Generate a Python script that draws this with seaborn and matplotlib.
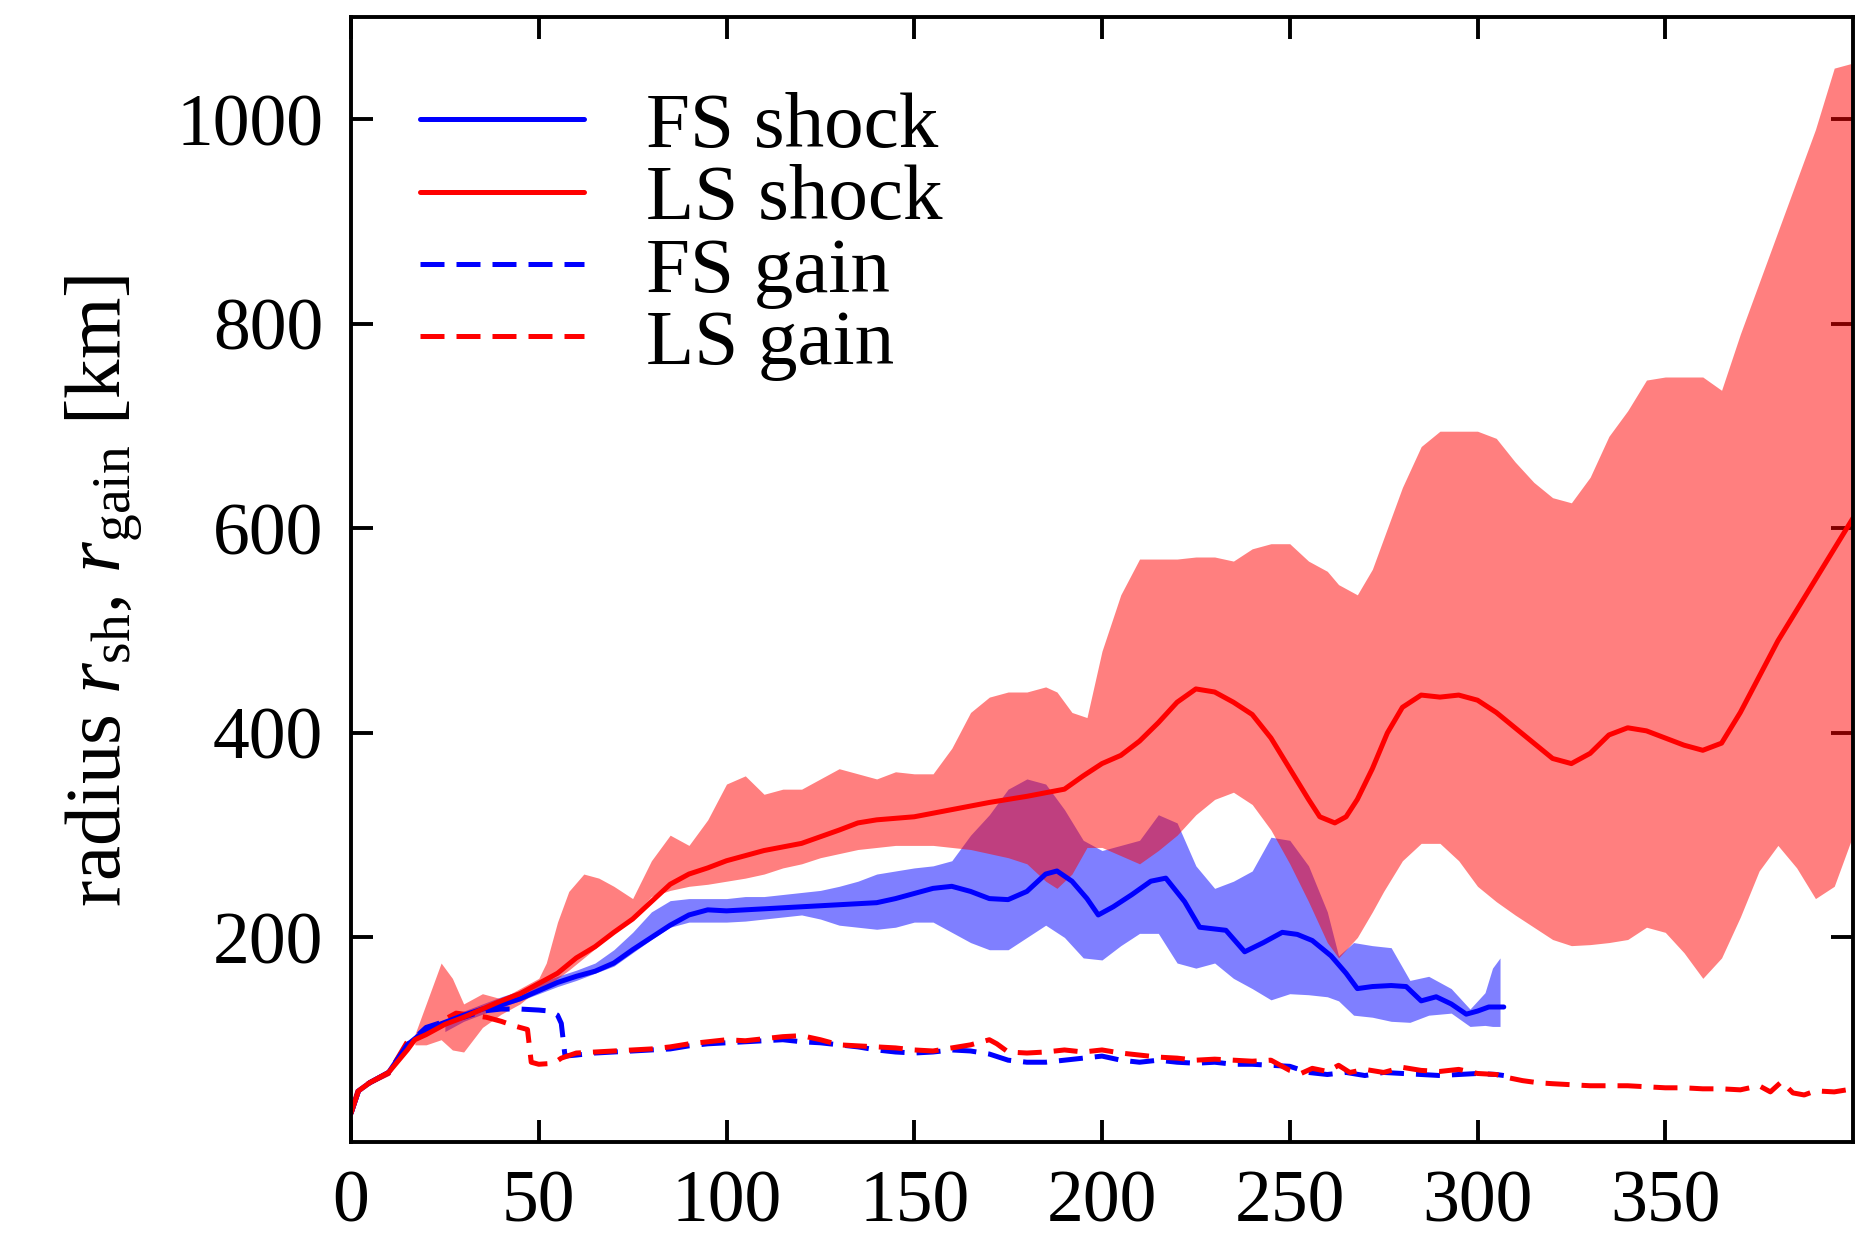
import numpy as np
import pandas as pd
import matplotlib
matplotlib.use("Agg")
import matplotlib.pyplot as plt
import seaborn as sns

# ---------------- data ----------------
# LS shock (mean)
t_ls = [0,2,5,10,15,17,20,25,30,35,40,45,50,55,60,65,70,75,80,85,90,95,100,105,110,120,130,135,140,150,160,170,180,190,195,200,205,210,215,220,225,230,235,240,245,250,255,258,262,265,268,272,276,280,285,290,295,300,305,310,315,320,325,330,335,340,345,350,355,360,365,370,375,380,385,390,395,400]
ls_shock = [28,50,58,68,90,100,105,115,122,130,138,145,155,165,180,191,205,218,235,252,262,268,275,280,285,292,305,312,315,318,325,332,338,345,358,370,378,392,410,430,443,440,430,418,395,365,335,318,312,318,335,365,400,425,437,435,437,432,420,405,390,375,370,380,398,405,402,395,388,383,390,420,455,490,520,550,580,610]

# LS shock band
t_ls_band = [17,20,24,27,30,35,40,45,50,52,55,58,62,66,70,75,80,85,90,95,100,105,110,115,120,125,130,135,140,145,150,155,160,165,170,175,180,185,188,192,196,200,205,210,215,220,225,230,235,240,245,250,255,260,263,268,272,275,280,285,290,295,300,305,310,315,320,325,330,335,340,345,350,355,360,365,370,375,380,385,390,395,400]
ls_hi = [105,135,175,160,135,145,140,150,160,175,215,245,262,258,250,238,275,300,290,315,350,358,340,345,345,355,365,360,355,362,360,360,385,420,435,440,440,445,440,420,415,480,535,570,570,570,572,572,568,580,585,585,568,558,545,535,560,590,640,680,695,695,695,688,665,645,630,625,650,690,715,745,748,748,748,735,790,840,890,940,990,1050,1055]
ls_lo = [95,95,100,90,88,112,125,135,150,152,160,168,180,192,205,220,240,246,250,252,255,258,262,268,272,278,282,286,288,290,290,290,288,286,282,278,272,255,248,262,288,288,280,272,285,300,320,335,342,330,305,272,235,195,180,200,225,245,275,292,292,275,250,235,222,210,198,192,193,195,198,210,205,185,160,180,220,265,290,268,238,250,300]

# FS shock (mean)
t_fs = [0,2,5,10,15,20,25,30,35,40,45,50,55,60,65,70,75,80,85,90,95,100,110,120,130,140,145,150,155,160,165,170,175,180,185,188,192,196,199,203,208,213,217,222,226,233,238,243,248,252,256,261,265,268,272,277,281,285,289,293,297,300,303,307]
fs_shock = [28,50,58,68,95,110,117,124,130,134,140,148,156,162,167,175,188,200,212,222,227,226,228,230,232,234,238,243,248,250,245,238,237,245,262,265,255,238,222,230,242,255,258,235,210,207,186,195,205,203,197,182,165,150,152,153,152,138,142,135,125,128,132,132]

# FS shock band
t_fs_band = [25,30,35,40,45,50,55,60,65,70,75,80,85,90,95,100,105,110,115,120,125,130,135,140,145,150,155,160,165,170,175,180,185,190,195,200,205,210,215,220,225,230,235,240,245,250,255,260,263,267,272,277,282,287,293,298,302,304,306]
fs_hi = [118,128,135,142,148,155,162,168,175,188,205,225,236,238,238,238,240,240,242,244,246,250,255,262,265,268,270,275,300,320,345,355,350,325,295,285,290,295,320,312,270,248,255,265,298,295,270,225,182,195,192,190,158,162,150,130,146,170,180]
fs_lo = [108,118,125,132,138,145,152,158,165,172,185,198,210,215,215,215,216,218,220,222,218,212,210,208,210,215,215,205,195,188,188,200,212,200,180,178,192,204,204,175,170,175,160,150,139,145,144,142,138,124,122,118,117,124,126,113,114,113,113]

# FS gain radius
t_fsg = [0,2,5,10,15,20,25,30,35,40,45,50,53,55,56,57,60,65,70,75,80,85,90,95,100,105,110,115,120,125,130,135,140,145,150,155,160,165,170,175,180,185,190,195,200,205,210,215,220,225,230,235,240,245,250,255,260,265,270,275,280,285,290,295,300,305,307]
fs_gain = [28,50,58,68,95,112,118,122,128,130,130,129,128,124,116,84,85,87,88,89,90,91,94,96,97,98,99,100,98,97,95,93,90,88,87,88,90,89,86,80,78,78,80,82,84,80,78,80,78,77,78,76,76,75,74,68,66,68,65,68,67,66,65,66,67,66,65]

# LS gain radius
t_lsg = [0,2,5,10,15,20,25,28,32,36,40,44,47,48,50,54,56,60,65,70,75,80,85,90,95,100,105,110,115,120,125,130,135,140,145,150,155,160,165,170,172,175,180,185,190,195,200,205,210,215,220,225,230,235,240,245,250,253,256,260,263,266,270,275,280,285,290,295,300,305,308,312,316,320,325,330,335,340,345,350,355,360,365,370,375,378,381,384,387,390,395,400]
ls_gain = [28,52,58,67,98,106,120,126,124,122,118,113,110,78,76,77,82,87,88,89,90,91,93,96,98,100,99,101,103,104,100,95,94,93,92,90,89,92,95,100,96,88,87,88,90,88,90,87,85,83,82,80,81,80,79,80,70,67,72,69,75,68,71,68,73,70,69,71,67,66,63,60,58,57,56,55,55,55,54,53,53,52,52,51,55,49,59,48,46,50,49,52]

x_ticks = [0, 50, 100, 150, 200, 250, 300, 350]
y_ticks = [200, 400, 600, 800, 1000]
legend_labels = ["FS shock", "LS shock", "FS gain", "LS gain"]

# ---------------- style ----------------
sns.set_style("ticks")
plt.rcParams["font.family"] = ["Liberation Serif", "DejaVu Serif"]
plt.rcParams["mathtext.fontset"] = "custom"
plt.rcParams["mathtext.rm"] = "Liberation Serif"
plt.rcParams["mathtext.it"] = "Liberation Serif:italic"
for k in ["text.color", "axes.labelcolor", "xtick.color", "ytick.color", "axes.edgecolor"]:
    plt.rcParams[k] = "black"
FS = 53
FS_BIG = 57

fig = plt.figure(figsize=(18.6, 12.37), dpi=100)
ax = fig.add_axes([351/1860, 95/1237, 1502/1860, 1125/1237])

# bands
ax.fill_between(t_fs_band, fs_lo, fs_hi, color="#0000ff", alpha=0.5, lw=0)
ax.fill_between(t_ls_band, ls_lo, ls_hi, color="#ff0000", alpha=0.5, lw=0)

LW = 3.6
sns.lineplot(x=t_fsg, y=fs_gain, ax=ax, color="#0000ff", lw=LW, label=legend_labels[2])
sns.lineplot(x=t_lsg, y=ls_gain, ax=ax, color="#ff0000", lw=LW, label=legend_labels[3])
sns.lineplot(x=t_fs, y=fs_shock, ax=ax, color="#0000ff", lw=LW, label=legend_labels[0])
sns.lineplot(x=t_ls, y=ls_shock, ax=ax, color="#ff0000", lw=LW, label=legend_labels[1])
for ln in ax.lines[:2]:
    ln.set_linestyle((0, (4.8, 2.4)))

ax.set_xlim(0, 400)
ax.set_ylim(0, 1100)
ax.set_xticks(x_ticks)
ax.set_xticklabels([str(v) for v in x_ticks])
ax.set_yticks(y_ticks)
ax.set_yticklabels([str(v) for v in y_ticks])
ax.tick_params(direction="in", length=16, width=2.8, labelsize=FS, pad=20,
               top=True, right=True, bottom=True, left=True, colors="black")
ax.minorticks_off()
for s in ax.spines.values():
    s.set_linewidth(2.8)
    s.set_color("black")
    s.set_visible(True)

ax.set_xlabel("")
ax.set_ylabel(r"radius $r_{\rm sh}$, $r_{\rm gain}$ [km]", fontsize=FS_BIG, color="black")
ax.yaxis.set_label_coords(-0.137, 0.49)

# legend in the reference order
handles, labels = ax.get_legend_handles_labels()
order = [labels.index(l) for l in legend_labels]
leg = ax.legend([handles[i] for i in order], [labels[i] for i in order],
                loc="upper left", frameon=False, fontsize=FS_BIG,
                handlelength=2.07, handletextpad=0.78, labelspacing=0.0,
                borderaxespad=0.0, bbox_to_anchor=(0.025, 0.962))
for txt in leg.get_texts():
    txt.set_color("black")

fig.savefig("out.png", dpi=100)
